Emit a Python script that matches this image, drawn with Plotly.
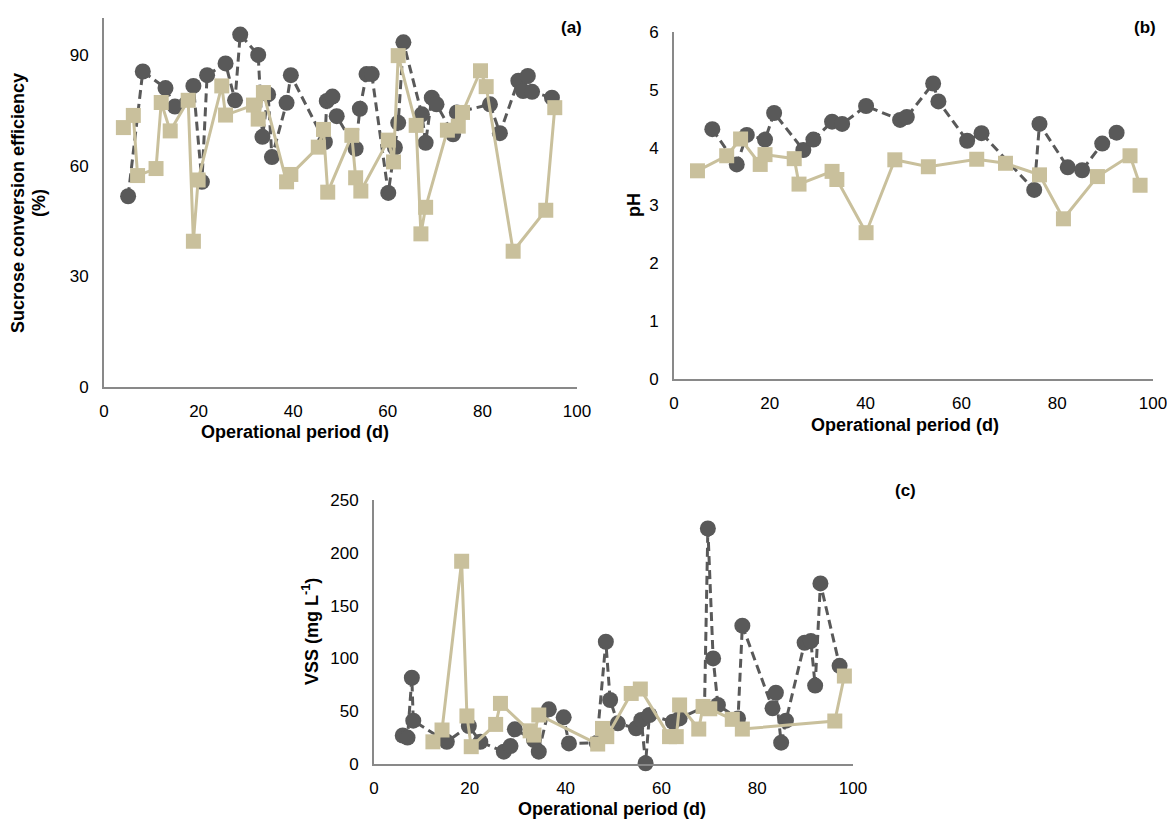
import plotly.graph_objects as go

# ---------------- data ----------------
# (a) Sucrose conversion efficiency (%)
a_circ_day = [5.1, 8.2, 13.0, 15.0, 18.9, 20.7, 21.8, 25.7, 27.7, 28.8, 32.6, 33.5, 34.7, 35.5,
              38.6, 39.5, 46.7, 47.1, 48.3, 49.2, 53.2, 54.1, 55.5, 56.6, 60.1, 61.5, 62.2, 63.3,
              67.2, 68.0, 69.3, 70.3, 73.8, 74.6, 81.6, 83.7, 87.6, 88.6, 89.6, 90.5, 94.7]
a_circ_val = [51.7, 85.5, 81.0, 76.0, 81.6, 55.6, 84.5, 87.7, 77.7, 95.5, 90.0, 67.8, 79.3, 62.3,
              77.0, 84.5, 66.4, 77.5, 78.7, 73.4, 64.6, 75.4, 84.8, 84.8, 52.6, 64.9, 71.6, 93.4,
              73.9, 66.2, 78.4, 76.6, 68.5, 74.4, 76.6, 68.8, 83.0, 80.2, 84.3, 80.0, 78.4]
a_sq_day = [4.1, 6.2, 7.1, 11.0, 12.1, 14.0, 17.8, 18.9, 19.9, 24.9, 25.7, 31.6, 32.6, 33.7,
            38.6, 39.5, 45.3, 46.4, 47.3, 52.4, 53.2, 54.3, 60.1, 61.2, 62.2, 66.0, 67.0, 68.0,
            72.6, 74.9, 75.8, 79.6, 80.8, 86.5, 93.4, 95.3]
a_sq_val = [70.3, 73.6, 57.3, 59.2, 77.1, 69.4, 77.7, 39.5, 56.1, 81.6, 73.7, 76.4, 72.6, 79.8,
            55.6, 57.6, 65.0, 69.8, 52.8, 68.2, 56.7, 53.1, 66.9, 61.0, 89.8, 70.9, 41.5, 48.7,
            69.6, 70.7, 74.4, 85.7, 81.4, 36.8, 47.9, 75.7]

# (b) pH
b_circ_day = [8.0, 13.1, 15.2, 19.0, 20.9, 27.0, 29.1, 33.0, 35.1, 40.1, 47.2, 48.6, 54.1, 55.2,
              61.2, 64.2, 75.2, 76.3, 82.2, 85.2, 89.4, 92.4]
b_circ_val = [4.32, 3.71, 4.22, 4.14, 4.60, 3.96, 4.14, 4.45, 4.41, 4.72, 4.48, 4.53, 5.11, 4.80,
              4.12, 4.25, 3.27, 4.41, 3.66, 3.61, 4.07, 4.26]
b_sq_day = [4.9, 11.0, 13.9, 18.0, 19.0, 25.1, 26.1, 33.0, 34.0, 40.1, 46.1, 53.1, 63.2, 69.2,
            76.3, 81.3, 88.4, 95.2, 97.3]
b_sq_val = [3.60, 3.86, 4.15, 3.71, 3.88, 3.81, 3.37, 3.59, 3.45, 2.53, 3.79, 3.67, 3.80, 3.73,
            3.53, 2.77, 3.50, 3.86, 3.35]

# (c) VSS (mg L-1)
c_circ_day = [6.0, 7.0, 7.9, 8.2, 15.2, 19.8, 22.2, 27.1, 28.5, 29.4, 33.4, 34.4, 36.5, 39.6,
              40.7, 46.5, 48.4, 49.3, 50.9, 54.7, 55.8, 56.7, 57.5, 62.4, 63.8, 69.0, 69.7, 70.8,
              71.8, 76.0, 76.9, 83.2, 83.9, 85.0, 86.0, 89.9, 91.2, 92.1, 93.2, 97.2]
c_circ_val = [27, 25, 81.7, 41, 21, 36, 21, 11.7, 17, 32.8, 22.7, 11.7, 51.8, 44.2,
              19.5, 20, 115.8, 60.6, 38.5, 33.8, 41.7, 0.7, 46.4, 40, 43.2, 54, 223, 100,
              55.9, 43.2, 131, 52.7, 67.5, 20.2, 41, 114.8, 116.5, 74.3, 171, 93]
c_sq_day = [12.3, 14.2, 18.3, 19.4, 20.3, 25.4, 26.4, 32.6, 33.4, 34.4, 46.7, 47.7, 48.6, 53.7,
            55.6, 61.7, 63.1, 63.8, 67.8, 68.7, 70.1, 74.8, 76.9, 96.2, 98.2]
c_sq_val = [21, 32.2, 192, 45.5, 16.4, 37.5, 57.4, 31.4, 27.4, 46.4, 18.9, 33.7, 25.9, 66.8,
            71, 25.9, 25.9, 55.9, 33.1, 54.5, 52.3, 42.3, 33.1, 40.7, 83.3]

a_yticks = [0, 30, 60, 90]
b_yticks = [0, 1, 2, 3, 4, 5, 6]
c_yticks = [0, 50, 100, 150, 200, 250]
x_ticks = [0, 20, 40, 60, 80, 100]

# ---------------- style ----------------
OFF = 8                      # page body margin of the browser
W, H = 1175 - OFF, 820 - OFF
DARK = "#595959"
TAN = "#C9C09C"
AXC = "#898989"
FONT = "Liberation Sans, Arial, sans-serif"


def px(x):
    return (x - OFF) / W


def py(y):
    return 1 - (y - OFF) / H


fig = go.Figure()


def add_pair(cd, cv, sd, sv, xa, ya):
    fig.add_trace(go.Scatter(
        x=cd, y=cv, mode="lines+markers", xaxis=xa, yaxis=ya,
        line=dict(color=DARK, width=3, dash="9px,5px"),
        marker=dict(symbol="circle", size=16, color=DARK, line=dict(width=0)),
        showlegend=False, cliponaxis=False))
    fig.add_trace(go.Scatter(
        x=sd, y=sv, mode="lines+markers", xaxis=xa, yaxis=ya,
        line=dict(color=TAN, width=3),
        marker=dict(symbol="square", size=15, color=TAN, line=dict(width=0)),
        showlegend=False, cliponaxis=False))


add_pair(a_circ_day, a_circ_val, a_sq_day, a_sq_val, "x", "y")
add_pair(b_circ_day, b_circ_val, b_sq_day, b_sq_val, "x2", "y2")
add_pair(c_circ_day, c_circ_val, c_sq_day, c_sq_val, "x3", "y3")

tickfont = dict(family=FONT, size=17, color="black")


def xax(domain, anchor):
    return dict(domain=domain, anchor=anchor, range=[0, 100], tickvals=x_ticks,
                showline=True, linecolor=AXC, linewidth=2, showgrid=False, zeroline=False,
                ticks="", tickfont=tickfont, ticklabelstandoff=8, automargin=False, fixedrange=True)


def yax(domain, anchor, rng, tv):
    return dict(domain=domain, anchor=anchor, range=rng, tickvals=tv,
                showline=True, linecolor=AXC, linewidth=2, showgrid=False, zeroline=False,
                ticks="", tickfont=tickfont, ticklabelstandoff=10, automargin=False, fixedrange=True)


fig.update_layout(
    width=W, height=H,
    margin=dict(l=0, r=0, t=0, b=0),
    paper_bgcolor="white", plot_bgcolor="white",
    font=dict(family=FONT, color="black"),
    xaxis=xax([px(104), px(577)], "y"),
    yaxis=yax([py(387), py(18)], "x", [0, 100], a_yticks),
    xaxis2=xax([px(674), px(1153)], "y2"),
    yaxis2=yax([py(379), py(32)], "x2", [0, 6], b_yticks),
    xaxis3=xax([px(374), px(853)], "y3"),
    yaxis3=yax([py(764), py(500)], "x3", [0, 250], c_yticks),
)


def ann(text, x, y, angle=0, size=18):
    fig.add_annotation(text=text, x=px(x), y=py(y), xref="paper", yref="paper",
                       showarrow=False, textangle=angle, xanchor="center", yanchor="middle",
                       font=dict(family=FONT, size=size, color="black"))


ann("<b>Sucrose conversion efficiency</b>", 18, 203, -90)
ann("<b>(%)</b>", 39, 203, -90)
ann("<b>Operational period (d)</b>", 295, 432)
ann("<b>(a)</b>", 571, 27, 0, 17)

ann("<b>pH</b>", 634, 205, -90)
ann("<b>Operational period (d)</b>", 905, 425)
ann("<b>(b)</b>", 1145, 28, 0, 17)

ann("<b>VSS (mg L<sup>-1</sup>)</b>", 310, 632, -90)
ann("<b>Operational period (d)</b>", 612, 809)
ann("<b>(c)</b>", 905, 490, 0, 17)

fig.write_html("out.html")
